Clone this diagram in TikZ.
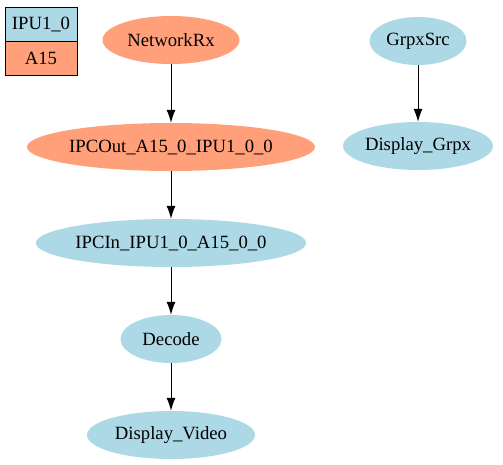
\documentclass[tikz,border=0pt]{standalone}
\usepackage{fontspec}
\setmainfont{Liberation Serif}
\usetikzlibrary{shapes.geometric,arrows.meta}
\definecolor{lsalmon}{HTML}{FFA07A}
\definecolor{lblue}{HTML}{ADD8E6}
\tikzset{
  gnode/.style={ellipse, inner sep=0pt, minimum height=48pt, font=\fontsize{18.7}{22}\selectfont},
  sal/.style={gnode, fill=lsalmon},
  blu/.style={gnode, fill=lblue},
  legbox/.style={draw=black, line width=1pt, minimum width=72pt, minimum height=34pt, inner sep=0pt, font=\fontsize{18.7}{22}\selectfont},
  edge/.style={draw=black, line width=1pt, -{Latex[length=13pt,width=9pt]}}
}
\begin{document}
\begin{tikzpicture}[x=1pt,y=-1pt]
\useasboundingbox (0,0) rectangle (503,464);
\node[legbox, fill=lblue] (l1) at (41,24) {IPU1\_0};
\node[legbox, fill=lsalmon] (l2) at (41,58) {A15};
\node[sal, minimum width=137pt] (net) at (171,40) {NetworkRx};
\node[sal, minimum width=285pt] (out) at (171,147) {IPCOut\_A15\_0\_IPU1\_0\_0};
\node[blu, minimum width=269pt] (in) at (171,243) {IPCIn\_IPU1\_0\_A15\_0\_0};
\node[blu, minimum width=101pt] (dec) at (171,339) {Decode};
\node[blu, minimum width=168pt] (dv) at (171,435) {Display\_Video};
\node[blu, minimum width=97pt] (gs) at (418,41) {GrpxSrc};
\node[blu, minimum width=146pt] (dg) at (418,146) {Display\_Grpx};
\draw[edge] (net) -- (out);
\draw[edge] (out) -- (in);
\draw[edge] (in) -- (dec);
\draw[edge] (dec) -- (dv);
\draw[edge] (gs) -- (dg);
\end{tikzpicture}
\end{document}
